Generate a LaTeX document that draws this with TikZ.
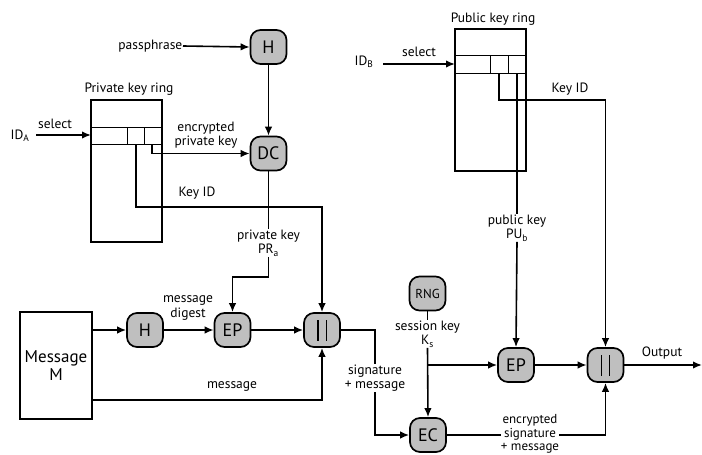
\documentclass[tikz,border=0pt]{standalone}
\usepackage{fontspec}
\setmainfont{PT Sans}
\usetikzlibrary{arrows.meta}
\newcommand{\catbars}{\rule{1.4pt}{21pt}\hspace{7pt}\rule{1.4pt}{21pt}}
\begin{document}
\begin{tikzpicture}[x=1pt,y=-1pt,
  font=\fontsize{13.5}{14.5}\selectfont,
  proc/.style={draw, line width=1.7pt, rounded corners=10pt, fill=gray!50, minimum width=36pt, minimum height=34pt, inner sep=0pt, font=\fontsize{18}{19}\selectfont},
  ringbox/.style={draw, line width=1.6pt, inner sep=0pt},
  thin/.style={line width=0.8pt},
  wire/.style={line width=1.6pt},
  arr/.style={wire, -{Latex[length=9pt,width=7.5pt]}},
  lbl/.style={align=center, inner sep=0.5pt},
  wlbl/.style={align=center, inner sep=0.5pt, fill=white},
]
\useasboundingbox (0,0) rectangle (702,455);

% ---------- private key ring ----------
\node[ringbox, minimum width=71pt, minimum height=142pt] (privring) at (126.5,171) {};
\node[lbl] (privlbl) at (129,89) {Private key ring};
\draw[thin] (91,127) -- (162,127);
\draw[thin] (91,144) -- (162,144);
\draw[thin] (127,127) -- (127,144);
\draw[thin] (144,127) -- (144,144);
\coordinate (pselect) at (91,135);
\coordinate (pcell2) at (136,144);
\coordinate (pcell3) at (152,144);

\node[lbl] (idA) at (20,136) {ID\textsubscript{A}};
\node[lbl] (selA) at (55,124) {select};
\draw[arr] (36,135) -- (pselect);

% ---------- passphrase, H, DC ----------
\node[lbl, anchor=east] (pass) at (183,46) {passphrase};
\node[proc] (H1) at (268.5,47) {H};
\node[proc] (DC) at (268.5,153.5) {DC};
\draw[arr] (pass.east) -- (H1.west);
\draw[arr] (H1.south) -- (DC.north);
\draw[arr] (pcell3) |- (DC.west);
\node[lbl] (encpk) at (206,135) {encrypted\\private key};

% Key ID (sender)
\node[proc] (cat1) at (322,330) {\catbars};
\coordinate (kAturn) at (322,207);
\draw[arr] (pcell2) |- (kAturn) -- (cat1.north);
\node[lbl] (keyidA) at (197,193) {Key ID};

% private key PR_a
\node[lbl] (prA) at (268.5,243) {private key\\PR\textsubscript{a}};
\draw[wire] (DC.south) -- (prA.north);
\node[proc] (EP1) at (232.5,330) {EP};
\coordinate (prturn) at (268.5,277);
\draw[arr] (prA.south) -- (prturn) -| (EP1.north);

% ---------- message ----------
\node[ringbox, minimum width=72pt, minimum height=107pt, align=center,
      font=\fontsize{17}{18}\selectfont] (msg) at (56,365.5) {Message\\M};
\node[proc] (H2) at (145,330) {H};
\draw[arr] (msg.east |- H2.west) -- (H2.west);
\draw[arr] (H2.east) -- (EP1.west);
\node[lbl] (mdig) at (188,308) {message\\digest};
\draw[arr] (EP1.east) -- (cat1.west);
\coordinate (msgout) at (92,400);
\draw[arr] (msgout) -| (cat1.south);
\node[lbl] (msglbl) at (232,386) {message};

% ---------- session key ----------
\node[proc, font=\fontsize{13}{14}\selectfont] (RNG) at (427.5,293.5) {RNG};
\node[lbl] (sess) at (427.5,334) {session key\\K\textsubscript{s}};
\draw[wire] (RNG.south) -- (sess.north);
\node[proc] (EC) at (428,435) {EC};
\node[proc] (EP2) at (516,365) {EP};
\coordinate (branch) at (sess.south |- EP2.west);
\draw[arr] (sess.south) -- (EC.north);
\draw[arr] (branch) -- (EP2.west);

% signature + message
\coordinate (sigturn) at (375,330);
\draw[arr] (cat1.east) -- (sigturn) |- (EC.west);
\node[wlbl] (siglbl) at (375,378) {signature\\+ message};

% ---------- public key ring ----------
\node[ringbox, minimum width=71pt, minimum height=142pt] (pubring) at (490.5,100) {};
\node[lbl] (publbl) at (493,19) {Public key ring};
\draw[thin] (455,55) -- (526,55);
\draw[thin] (455,73) -- (526,73);
\draw[thin] (490,55) -- (490,73);
\draw[thin] (508,55) -- (508,73);
\coordinate (qselect) at (455,64);
\coordinate (qcell2) at (499,73);
\coordinate (qcell3) at (517,73);

\node[lbl] (idB) at (364,62) {ID\textsubscript{B}};
\node[lbl] (selB) at (419,52) {select};
\draw[arr] (383,64) -- (qselect);

\node[proc] (cat2) at (605.5,365) {\catbars};
\coordinate (kBturn) at (605.5,100);
\draw[arr] (qcell2) |- (kBturn) -- (cat2.north);
\node[lbl] (keyidB) at (570,89) {Key ID};

\node[lbl] (pubk) at (517,228) {public key\\PU\textsubscript{b}};
\draw[wire] (qcell3) -- (pubk.north);
\draw[arr] (pubk.south) -- (EP2.north);

\draw[arr] (EP2.east) -- (cat2.west);
\coordinate (out) at (702,365);
\draw[arr] (cat2.east) -- (out);
\node[lbl] (outlbl) at (662,353) {Output};

\draw[arr] (EC.east) -| (cat2.south);
\node[wlbl, inner sep=0pt, font=\fontsize{13}{13.2}\selectfont] (enclbl) at (530,434) {encrypted\\signature\\+ message};
\end{tikzpicture}
\end{document}
